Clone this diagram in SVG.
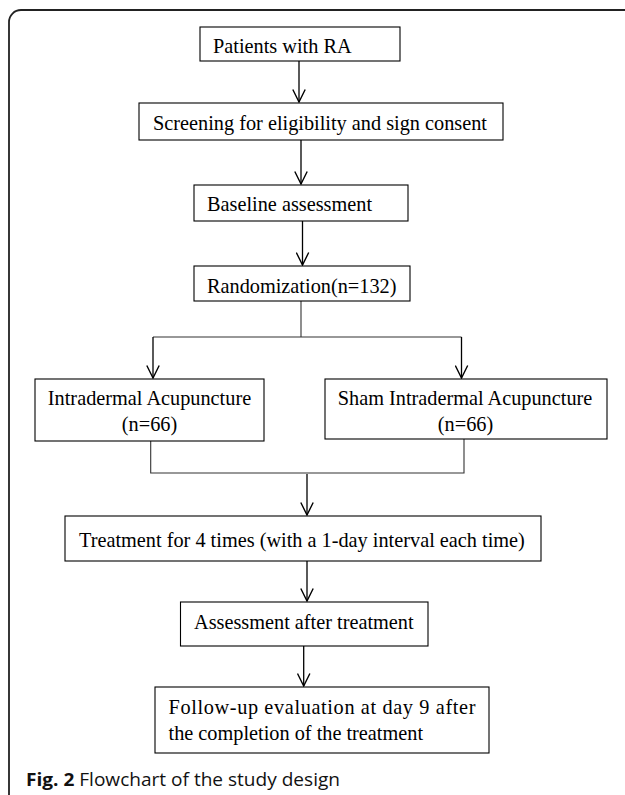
<svg xmlns="http://www.w3.org/2000/svg" width="625" height="795" viewBox="0 0 625 795">
<defs>
<style>
.box{fill:#fff;stroke:#000;stroke-width:1.1}
.t{font-family:"Liberation Serif","Times New Roman",serif;font-size:20.3px;fill:#000}
.c{fill:none;stroke:#000;stroke-width:1.3}
.ln{fill:none;stroke:#333;stroke-width:1.1}
</style>
<marker id="ah" viewBox="0 0 14 14" refX="13" refY="7" markerWidth="14" markerHeight="14" markerUnits="userSpaceOnUse" orient="auto">
<path d="M0.5,0.8 L13,7 L0.5,13.2" fill="none" stroke="#000" stroke-width="1.4"/>
</marker>
</defs>
<rect width="625" height="795" fill="#fff"/>
<path d="M9,795 V22 A12,12 0 0 1 21,10 H625" fill="none" stroke="#222" stroke-width="1.8"/>
<g id="connectors">
<line class="c" x1="299" y1="61" x2="299" y2="102" marker-end="url(#ah)"/>
<line class="c" x1="301" y1="140" x2="301" y2="184" marker-end="url(#ah)"/>
<line class="c" x1="302.5" y1="221" x2="302.5" y2="265" marker-end="url(#ah)"/>
<path class="ln" d="M301,301 V337 M153,337 H461.5"/>
<line class="c" x1="153" y1="337" x2="153" y2="378" marker-end="url(#ah)"/>
<line class="c" x1="461.5" y1="337" x2="461.5" y2="378" marker-end="url(#ah)"/>
<path class="ln" d="M150.7,441 V473 H464 V439"/>
<line class="c" x1="307" y1="474" x2="307" y2="515" marker-end="url(#ah)"/>
<line class="c" x1="307" y1="561" x2="307" y2="601" marker-end="url(#ah)"/>
<line class="c" x1="303.7" y1="646" x2="303.7" y2="686" marker-end="url(#ah)"/>
</g>
<g id="n1"><rect class="box" x="200" y="27" width="200" height="34"/><text class="t" x="213" y="53">Patients with RA</text></g>
<g id="n2"><rect class="box" x="139" y="103" width="364" height="37"/><text class="t" x="153" y="130">Screening for eligibility and sign consent</text></g>
<g id="n3"><rect class="box" x="194" y="185" width="214" height="36"/><text class="t" x="207" y="211">Baseline assessment</text></g>
<g id="n4"><rect class="box" x="194" y="266" width="216" height="35"/><text class="t" x="207" y="293">Randomization(n=132)</text></g>
<g id="n5"><rect class="box" x="35" y="379" width="229" height="62"/><text class="t" x="149.5" y="405" text-anchor="middle">Intradermal Acupuncture</text><text class="t" x="149.5" y="431" text-anchor="middle">(n=66)</text></g>
<g id="n6"><rect class="box" x="325" y="379" width="282" height="60"/><text class="t" x="465" y="405" text-anchor="middle">Sham Intradermal Acupuncture</text><text class="t" x="465.5" y="431" text-anchor="middle">(n=66)</text></g>
<g id="n7"><rect class="box" x="65" y="516" width="476" height="45"/><text class="t" x="79" y="547">Treatment for 4 times (with a 1-day interval each time)</text></g>
<g id="n8"><rect class="box" x="180.5" y="602" width="247.5" height="44"/><text class="t" x="194" y="629">Assessment after treatment</text></g>
<g id="n9"><rect class="box" x="155" y="687" width="334" height="66"/><text class="t" x="168.5" y="714" textLength="307" lengthAdjust="spacing">Follow-up evaluation at day 9 after</text><text class="t" x="168.5" y="740">the completion of the treatment</text></g>
<text x="26" y="786" font-family="'Open Sans','Noto Sans',sans-serif" font-size="18.5" fill="#111" textLength="314" lengthAdjust="spacingAndGlyphs"><tspan font-weight="bold">Fig. 2</tspan> Flowchart of the study design</text>
</svg>
